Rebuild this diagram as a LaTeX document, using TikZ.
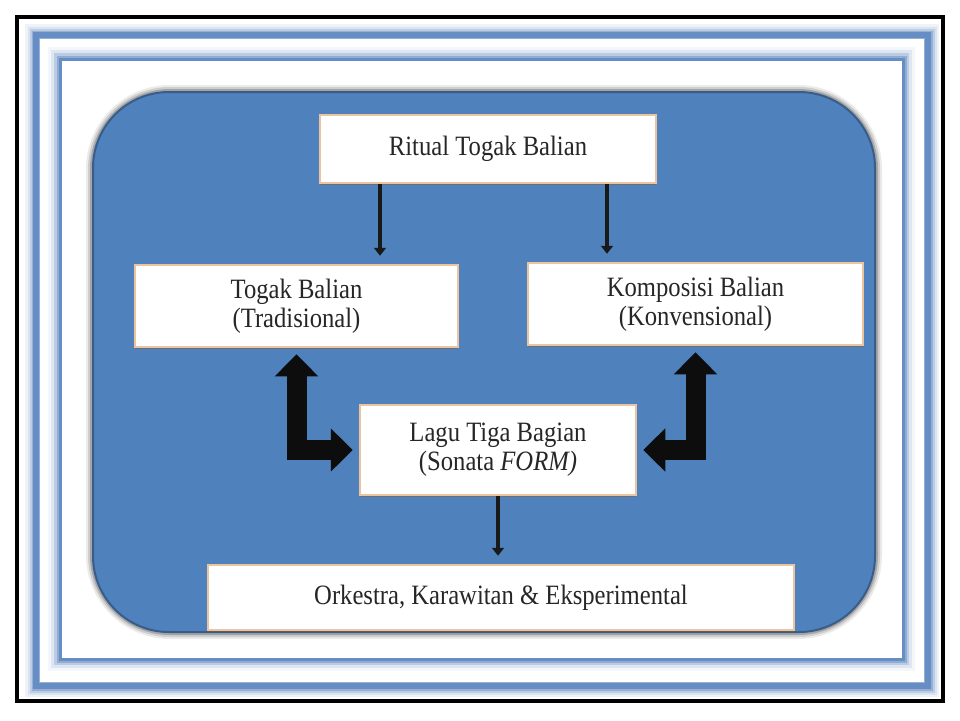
\documentclass[tikz,border=0pt]{standalone}
\usepackage{fontspec}
\setmainfont[FakeStretch=0.88]{Liberation Serif}
\usetikzlibrary{arrows.meta,shadows}
\definecolor{panelblue}{RGB}{79,129,189}
\definecolor{paneledge}{RGB}{56,93,138}
\definecolor{frameblue}{RGB}{103,142,196}
\definecolor{boxedge}{RGB}{236,196,160}
\definecolor{textgray}{RGB}{38,38,38}

\begin{document}
\begin{tikzpicture}[x=1pt, y=-1pt]
        \tikzstyle{box}=[draw=boxedge, line width=2.5pt, fill=white, text=textgray, align=center, inner sep=0pt, font=\fontsize{28}{29}\selectfont, drop shadow={shadow xshift=0pt, shadow yshift=-2pt, opacity=0.45, fill=brown!70!black}]
        \tikzstyle{thin}=[-{Triangle[width=12pt, length=8pt]}, line width=4pt, black!90, shorten >=8pt]
        \tikzstyle{bent}=[{Triangle[width=42pt, length=22pt]}-{Triangle[width=42pt, length=22pt]}, line width=20pt, black!95, line join=miter, shorten <=6pt, shorten >=6pt]

        \useasboundingbox (0,0) rectangle (960,720);
        \fill[white] (0,0) rectangle (960,720);

        % Frame
        \foreach \w/\o in {22/0.10, 17/0.15, 13/0.25, 9/0.45}
            \draw[frameblue, opacity=\o, line width=\w pt] (36,35) rectangle (928,686);
        \draw[frameblue, line width=6pt] (36,35) rectangle (928,686);
        \fill[white] (40,39) rectangle (924,682);
        \foreach \w/\o in {24/0.08, 18/0.15, 12/0.3, 7/0.5}
            \draw[frameblue, opacity=\o, line width=\w pt] (60,59) rectangle (903,659);
        \draw[frameblue, line width=3pt] (60,59) rectangle (903,659);
        \fill[white] (61.5,60.5) rectangle (901.5,657.5);
        \draw[line width=4pt] (17,17) rectangle (943,701);

        % Panel
        \foreach \w/\o in {14/0.08, 10/0.12, 6/0.2}
            \draw[black, opacity=\o, line width=\w pt, rounded corners=77pt] (93,92) rectangle (875,632);
        \draw[fill=panelblue, draw=paneledge, line width=2pt, rounded corners=76pt] (93,92) rectangle (875,632);

        % Nodes
        \node[box, minimum width=336pt, minimum height=68pt] (ritual) at (488,149) {Ritual Togak Balian};

        \node[box, minimum width=323pt, minimum height=82pt] (togak) at (296.5,306) {Togak Balian\\(Tradisional)};
        \node[box, minimum width=335pt, minimum height=82pt] (kompos) at (695.5,304) {Komposisi Balian\\(Konvensional)};

        \node[box, minimum width=276pt, minimum height=90pt] (lagu) at (498,450) {Lagu Tiga Bagian\\(Sonata \textit{FORM)}};

        \node[box, minimum width=586pt, minimum height=65pt] (orkes) at (501,597.5) {Orkestra, Karawitan \& Eksperimental};

        % Edges
        \draw[thin] ([xshift=-108pt]ritual.south) -- ([xshift=-108pt]ritual.south |- togak.north);
        \draw[thin] ([xshift=119pt]ritual.south) -- ([xshift=119pt]ritual.south |- kompos.north);

        \draw[bent] (togak.south) |- (lagu.west);
        \draw[bent] (kompos.south) |- (lagu.east);

        \draw[thin] (lagu.south) -- (lagu.south |- orkes.north);

\end{tikzpicture}
\end{document}
